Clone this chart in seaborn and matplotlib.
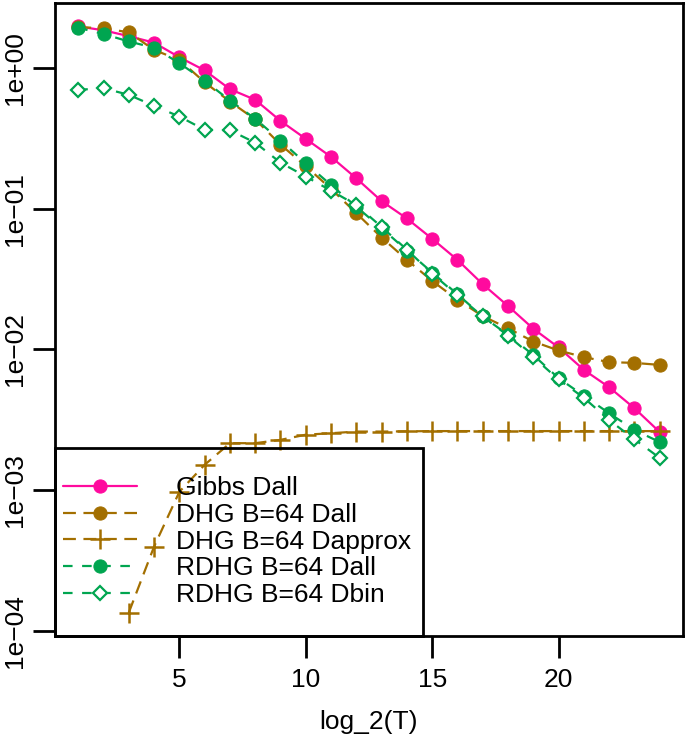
import matplotlib
matplotlib.use("Agg")
import matplotlib.pyplot as plt
import seaborn as sns
import numpy as np
from matplotlib.patches import Rectangle

# data
log2_T = list(range(1, 25))
log2_T_approx = list(range(3, 25))

gibbs_dall = [1.97, 1.85, 1.68, 1.51, 1.19, 0.96, 0.706, 0.593, 0.42, 0.313,
              0.233, 0.164, 0.113, 0.085, 0.061, 0.0432, 0.029, 0.0203, 0.014,
              0.0103, 0.00714, 0.00537, 0.00381, 0.00258]
dhg_dall = [1.95, 1.91, 1.79, 1.34, 1.14, 0.79, 0.576, 0.43, 0.285, 0.2,
            0.138, 0.0927, 0.0622, 0.0432, 0.0306, 0.0225, 0.0172, 0.0141,
            0.01135, 0.0098, 0.0088, 0.0081, 0.0080, 0.00774]
dhg_dapprox = [1.345e-4, 3.96e-4, 9.7e-4, 1.51e-3, 2.15e-3, 2.15e-3, 2.27e-3,
               2.47e-3, 2.53e-3, 2.6e-3, 2.6e-3, 2.61e-3, 2.62e-3, 2.62e-3,
               2.62e-3, 2.62e-3, 2.62e-3, 2.62e-3, 2.62e-3, 2.62e-3, 2.62e-3,
               2.62e-3]
rdhg_dall = [1.93, 1.74, 1.54, 1.39, 1.08, 0.81, 0.586, 0.435, 0.304, 0.21,
             0.147, 0.103, 0.0725, 0.0503, 0.0351, 0.0246, 0.0171, 0.01265,
             0.0091, 0.00623, 0.00467, 0.00351, 0.00267, 0.00219]
rdhg_dbin = [0.698, 0.717, 0.643, 0.537, 0.451, 0.363, 0.36, 0.294, 0.212,
             0.169, 0.134, 0.106, 0.074, 0.051, 0.0345, 0.0242, 0.0171, 0.0125,
             0.0088, 0.0061, 0.00452, 0.00314, 0.00229, 0.00169]

y_ticks = [1e-4, 1e-3, 1e-2, 1e-1, 1e0]
y_tick_labels = ["1e\u221204", "1e\u221203", "1e\u221202", "1e\u221201", "1e+00"]
x_ticks = [5, 10, 15, 20]

pink = "#FF0A9E"
brown = "#A36F00"
green = "#00A550"

sns.set_theme(style="ticks")
plt.rcParams["font.family"] = ["Liberation Sans", "DejaVu Sans"]
plt.rcParams["text.color"] = "black"
plt.rcParams["axes.labelcolor"] = "black"
plt.rcParams["xtick.color"] = "black"
plt.rcParams["ytick.color"] = "black"

fig = plt.figure(figsize=(6.85, 7.38), dpi=100)
ax = fig.add_axes([0.0803, 0.1382, 0.9167, 0.8577])

dhg_dash = (0, (5.8, 3.4))
rdhg_dash = (0, (4.3, 4.3))

sns.lineplot(x=log2_T, y=gibbs_dall, ax=ax, color=pink, lw=1.6,
             marker="o", markersize=9.5, markeredgecolor=pink,
             label="Gibbs Dall")
sns.lineplot(x=log2_T, y=dhg_dall, ax=ax, color=brown, lw=1.6,
             linestyle=dhg_dash, marker="o", markersize=9.5,
             markeredgecolor=brown, label="DHG B=64 Dall")
sns.lineplot(x=log2_T_approx, y=dhg_dapprox, ax=ax, color=brown, lw=1.6,
             linestyle=dhg_dash, marker="+", markersize=14,
             markeredgewidth=1.8, markeredgecolor=brown,
             label="DHG B=64 Dapprox")
sns.lineplot(x=log2_T, y=rdhg_dall, ax=ax, color=green, lw=1.6,
             linestyle=rdhg_dash, marker="o", markersize=9.5,
             markeredgecolor=green, label="RDHG B=64 Dall")
sns.lineplot(x=log2_T, y=rdhg_dbin, ax=ax, color=green, lw=1.6,
             linestyle=rdhg_dash, marker="D", markersize=7.5,
             markeredgewidth=1.6, markerfacecolor="white",
             markeredgecolor=green, label="RDHG B=64 Dbin")

ax.set_yscale("log")
ax.set_xlim(0.08, 24.92)
ax.set_ylim(9.16e-5, 2.89)
ax.set_yticks(y_ticks)
ax.set_yticklabels(y_tick_labels, rotation=90, va="center")
ax.yaxis.set_minor_locator(matplotlib.ticker.NullLocator())
ax.set_xticks(x_ticks)
ax.set_xticklabels([str(t) for t in x_ticks])
ax.tick_params(axis="both", direction="out", length=16, width=2,
               labelsize=19, color="black", labelcolor="black")
ax.tick_params(axis="y", pad=4)
ax.tick_params(axis="x", pad=7)
for s in ax.spines.values():
    s.set_visible(True)
    s.set_linewidth(2)
    s.set_color("black")

ax.set_xlabel("log_2(T)", fontsize=19, labelpad=13, color="black")
ax.set_ylabel("")

# legend box drawn by hand, legend contents centred inside
ax.add_patch(Rectangle((0, 0), 0.586, 0.297, transform=ax.transAxes,
                       fill=False, edgecolor="black", lw=2, zorder=5,
                       clip_on=False))
handles, labels = ax.get_legend_handles_labels()
leg = ax.legend(handles, labels, loc="center", bbox_to_anchor=(0.29, 0.149),
                frameon=False, fontsize=19, handlelength=2.8,
                handletextpad=1.5, labelspacing=0.1, borderpad=0,
                numpoints=1)
for t in leg.get_texts():
    t.set_color("black")

fig.savefig("out.png", dpi=100)
